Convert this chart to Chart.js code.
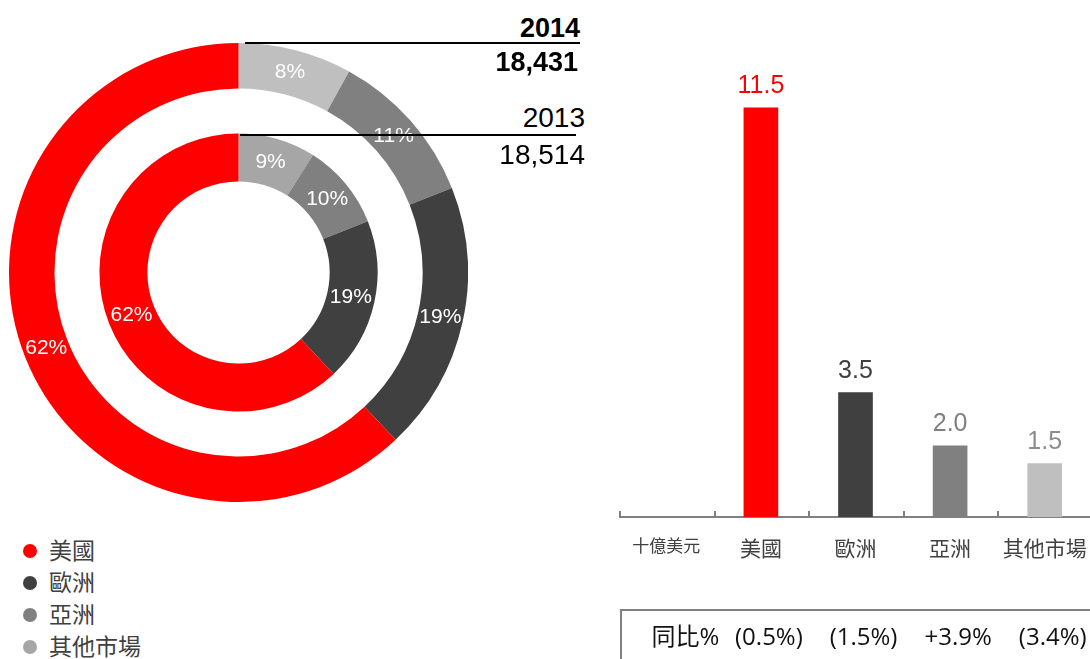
<!DOCTYPE html>
<html>
<head>
<meta charset="utf-8">
<script src="https://cdn.jsdelivr.net/npm/chart.js@4"></script>
<style>
  body { margin: 0; width: 1090px; height: 659px; overflow: hidden; background: #fff; position: relative; }
  canvas { position: absolute; }
  .yr { position: absolute; font-family: "Liberation Sans", Arial, sans-serif; font-size: 28px; color: #000; text-align: right; line-height: 30px; }
  .yr.b { font-weight: bold; font-size: 27px; }
  .rule { position: absolute; height: 2px; background: #000; }
  .leg { position: absolute; left: 23px; font-family: "Noto Sans CJK TC", sans-serif; font-size: 23px; color: #404040; line-height: 28px; }
  .leg i { display: inline-block; width: 14px; height: 14px; border-radius: 50%; margin-right: 12px; vertical-align: 1px; }
</style>
</head>
<body>
<canvas id="donut" width="459" height="459" style="left:9px;top:43px"></canvas>
<canvas id="bars" width="473" height="659" style="left:619px;top:0px"></canvas>
<div id="legend"></div>
<div id="notes"></div>
<script>
// regions, same order everywhere
var regions = ["美國", "歐洲", "亞洲", "其他市場"];
var unitLabel = "十億美元";

// share of sales, %
var share2014 = [62, 19, 11, 8];
var share2013 = [62, 19, 10, 9];

// sales by region, US$ bn
var sales = [11.5, 3.5, 2.0, 1.5];
var yoyLabel = "同比%";
var yoy = ["(0.5%)", "(1.5%)", "+3.9%", "(3.4%)"];

var years = ["2014", "2013"];
var totals = ["18,431", "18,514"];

var outerColors = ["#ff0000", "#404040", "#808080", "#bfbfbf"];
var innerColors = ["#ff0000", "#404040", "#808080", "#a6a6a6"];
var barColors = ["#ff0000", "#404040", "#808080", "#bfbfbf"];
var valueColors = ["#ff0000", "#404040", "#808080", "#8c8c8c"];

// doughnut goes clockwise from the top: other markets first
function rev(a) { return a.slice().reverse(); }

var pctLabels = {
  id: "pctLabels",
  afterDatasetsDraw: function (chart) {
    var ctx = chart.ctx;
    ctx.save();
    ctx.fillStyle = "#fff";
    ctx.font = "21px 'Liberation Sans', Arial, sans-serif";
    ctx.textAlign = "center";
    ctx.textBaseline = "middle";
    chart.data.datasets.forEach(function (ds, di) {
      if (ds.spacer) return;
      chart.getDatasetMeta(di).data.forEach(function (arc, i) {
        var p = arc.tooltipPosition();
        ctx.fillText(ds.data[i] + "%", p.x, p.y);
      });
    });
    ctx.restore();
  }
};

new Chart(document.getElementById("donut"), {
  type: "doughnut",
  data: {
    labels: rev(regions),
    datasets: [
      { data: rev(share2014), backgroundColor: rev(outerColors), borderWidth: 0, weight: 45.5 },
      { data: [1], backgroundColor: ["rgba(0,0,0,0)"], borderWidth: 0, weight: 45, spacer: true },
      { data: rev(share2013), backgroundColor: rev(innerColors), borderWidth: 0, weight: 48 }
    ]
  },
  options: {
    responsive: false,
    animation: false,
    cutout: "39.7%",
    plugins: { legend: { display: false }, tooltip: { enabled: false } }
  },
  plugins: [pctLabels]
});

var barExtras = {
  id: "barExtras",
  afterDraw: function (chart) {
    var ctx = chart.ctx;
    var x = chart.scales.x;
    var area = chart.chartArea;
    var step = x.getPixelForValue(1) - x.getPixelForValue(0);
    ctx.save();
    // tick marks pointing up between the categories
    ctx.strokeStyle = "#808080";
    ctx.lineWidth = 2;
    for (var i = 0; i <= chart.data.labels.length; i++) {
      var tx = Math.round(x.getPixelForValue(i) - step / 2) + 1;
      ctx.beginPath();
      ctx.moveTo(tx, area.bottom - 6);
      ctx.lineTo(tx, area.bottom);
      ctx.stroke();
    }
    // values above the bars
    ctx.font = "25px 'Liberation Sans', Arial, sans-serif";
    ctx.textAlign = "center";
    ctx.textBaseline = "alphabetic";
    chart.getDatasetMeta(0).data.forEach(function (bar, i) {
      var v = chart.data.datasets[0].data[i];
      if (v == null) return;
      ctx.fillStyle = valueColors[i - 1];
      ctx.fillText(v.toFixed(1), bar.x, bar.y - 15);
    });
    // year-on-year box
    ctx.strokeStyle = "#808080";
    ctx.lineWidth = 2;
    ctx.strokeRect(2, 610, 500, 80);
    ctx.fillStyle = "#111";
    ctx.font = "24px 'Open Sans', 'Noto Sans CJK TC', sans-serif";
    ctx.textBaseline = "middle";
    ctx.fillText(yoyLabel, x.getPixelForValue(0) + 19, 638);
    yoy.forEach(function (t, i) {
      ctx.fillText(t, x.getPixelForValue(i + 1) + 8, 638);
    });
    ctx.restore();
  }
};

new Chart(document.getElementById("bars"), {
  type: "bar",
  data: {
    labels: [unitLabel].concat(regions),
    datasets: [{
      data: [null].concat(sales),
      backgroundColor: ["#fff"].concat(barColors),
      barThickness: 34
    }]
  },
  options: {
    responsive: false,
    animation: false,
    layout: { padding: { top: 19, left: 0, right: 0, bottom: 0 } },
    plugins: { legend: { display: false }, tooltip: { enabled: false } },
    scales: {
      x: {
        grid: { display: false, drawTicks: false },
        border: { display: true, color: "#808080", width: 2 },
        afterFit: function (s) {
          s.height = 142;
          s.paddingLeft = 0;
          s.paddingRight = 0;
        },
        ticks: {
          autoSkip: false,
          maxRotation: 0,
          padding: 18,
          color: "#404040",
          font: function (c) {
            return { family: "'Noto Sans CJK TC', sans-serif", size: c.index === 0 ? 17 : 21 };
          }
        }
      },
      y: { display: false, min: 0, max: 14 }
    }
  },
  plugins: [barExtras]
});

// legend
var legendHtml = "";
regions.forEach(function (r, i) {
  legendHtml += '<div class="leg" style="top:' + (535 + i * 32) + 'px"><i style="background:' + innerColors[i] + '"></i>' + r + '</div>';
});
document.getElementById("legend").innerHTML = legendHtml;

// year totals next to the rings
document.getElementById("notes").innerHTML =
  '<div class="yr b" style="right:510px;top:13px">' + years[0] + '</div>' +
  '<div class="rule" style="left:245px;width:335px;top:42px"></div>' +
  '<div class="yr b" style="right:512px;top:47px">' + totals[0] + '</div>' +
  '<div class="yr" style="right:505px;top:103px">' + years[1] + '</div>' +
  '<div class="rule" style="left:240px;width:336px;top:134px"></div>' +
  '<div class="yr" style="right:505px;top:140px">' + totals[1] + '</div>';
</script>
</body>
</html>
